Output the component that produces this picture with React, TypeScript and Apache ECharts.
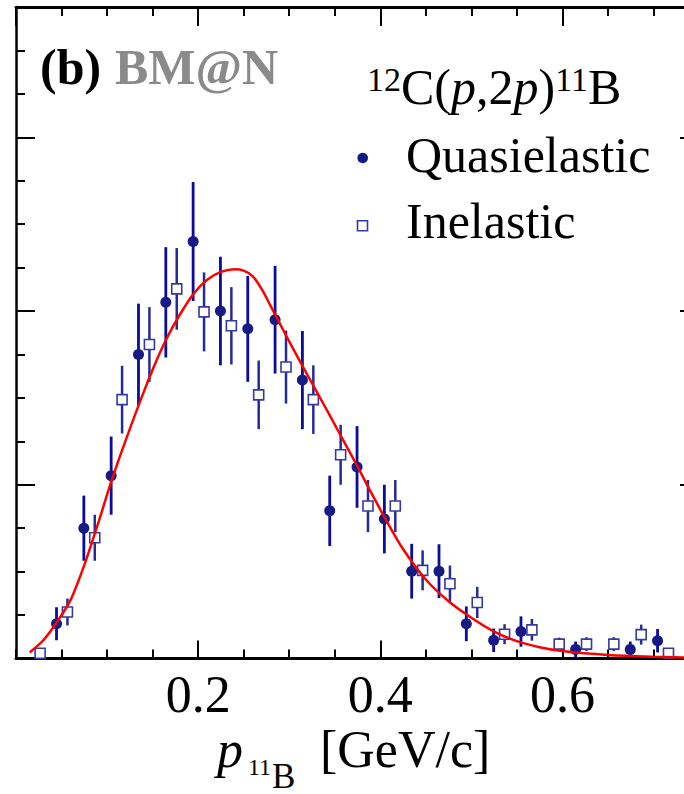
import React, { useEffect, useRef } from 'react';
import * as echarts from 'echarts';

// Quasielastic (filled circles)
const qeX = [0.0445, 0.0745, 0.1045, 0.1345, 0.1645, 0.1945, 0.2245, 0.2545, 0.2845, 0.3145, 0.3445, 0.3745, 0.4045, 0.4345, 0.4645, 0.4945, 0.5245, 0.5545, 0.6145, 0.6745, 0.7045];
const qeY = [0.80, 3.00, 4.21, 7.00, 8.20, 9.60, 8.00, 7.59, 7.80, 6.41, 3.40, 4.41, 3.21, 2.01, 2.01, 0.80, 0.42, 0.62, 0.21, 0.21, 0.41];
const qeErr = [0.38, 0.75, 0.90, 1.17, 1.27, 1.37, 1.25, 1.22, 1.24, 1.13, 0.81, 0.94, 0.79, 0.63, 0.62, 0.40, 0.27, 0.35, 0.18, 0.18, 0.27];

// Inelastic (open squares)
const ieX = [0.0265, 0.0565, 0.0865, 0.1165, 0.1465, 0.1765, 0.2065, 0.2365, 0.2665, 0.2965, 0.3265, 0.3565, 0.3865, 0.4165, 0.4465, 0.4765, 0.5065, 0.5365, 0.5665, 0.5965, 0.6265, 0.6565, 0.6865, 0.7165];
const ieY = [0.12, 1.07, 2.78, 5.96, 7.23, 8.51, 7.98, 7.66, 6.07, 6.71, 5.96, 4.69, 3.51, 3.51, 2.03, 1.72, 1.29, 0.56, 0.66, 0.33, 0.33, 0.33, 0.55, 0.12];
const ieErr = [0.10, 0.31, 0.53, 0.78, 0.86, 0.94, 0.91, 0.89, 0.79, 0.84, 0.79, 0.69, 0.60, 0.60, 0.46, 0.42, 0.36, 0.23, 0.25, 0.15, 0.16, 0.16, 0.23, 0.08];

// Model curve (red)
const curveX = [0.015, 0.03, 0.045, 0.06, 0.075, 0.09, 0.105, 0.12, 0.135, 0.15, 0.165, 0.18, 0.195, 0.21, 0.225, 0.24, 0.25, 0.26, 0.27, 0.28, 0.29, 0.30, 0.315, 0.33, 0.345, 0.36, 0.375, 0.39, 0.405, 0.425, 0.45, 0.475, 0.50, 0.525, 0.55, 0.575, 0.60, 0.65, 0.70, 0.75];
const curveY = [0.14, 0.42, 0.84, 1.35, 2.15, 3.10, 4.10, 5.00, 5.85, 6.65, 7.35, 7.92, 8.40, 8.72, 8.90, 8.96, 8.93, 8.80, 8.50, 8.10, 7.70, 7.30, 6.72, 6.15, 5.58, 5.00, 4.42, 3.82, 3.24, 2.52, 1.82, 1.32, 0.94, 0.62, 0.40, 0.26, 0.17, 0.08, 0.04, 0.02];

// Axis tick labels
const xTickValues = [0.2, 0.4, 0.6];
const xTickLabels = ['0.2', '0.4', '0.6'];

const SERIF = "'Liberation Serif', 'Times New Roman', serif";

export default function App() {
  const ref = useRef<HTMLDivElement>(null);

  useEffect(() => {
    const chart = echarts.init(ref.current!, undefined, { renderer: 'svg' });

    const errBar = (color: string, width: number) => (params: any, api: any) => {
      const x = api.value(0);
      const p1 = api.coord([x, api.value(2)]);
      const p2 = api.coord([x, api.value(3)]);
      return {
        type: 'line',
        shape: { x1: p1[0], y1: p1[1], x2: p2[0], y2: p2[1] },
        style: { stroke: color, lineWidth: width },
      };
    };

    const tickStyle = { color: '#000', width: 2 };
    const baseX: any = {
      type: 'value', min: 0, max: 0.75,
      splitLine: { show: false },
      axisLabel: { show: false },
      axisLine: { show: false, onZero: false },
    };
    const baseY: any = {
      type: 'value', min: 0, max: 15,
      splitLine: { show: false },
      axisLabel: { show: false },
      axisLine: { show: false, onZero: false },
    };

    const option: any = {
      animation: false,
      backgroundColor: '#fff',
      grid: { left: 16, top: 7, right: 21, bottom: 135.5, containLabel: false, outerBoundsMode: 'none' },
      xAxis: [
        { ...baseX, position: 'bottom', interval: 0.05,
          axisLine: { show: true, onZero: false, lineStyle: { color: '#000', width: 3 } },
          axisTick: { show: true, inside: true, length: 9, lineStyle: tickStyle } },
        { ...baseX, position: 'bottom', interval: 0.2,
          axisTick: { show: true, inside: true, length: 18, lineStyle: tickStyle },
          axisLabel: {
            show: true, margin: 10, fontSize: 52, fontFamily: SERIF, color: '#000',
            showMinLabel: false, showMaxLabel: false,
            formatter: (v: number) => {
              const i = xTickValues.findIndex((t) => Math.abs(t - v) < 1e-6);
              return i >= 0 ? xTickLabels[i] : '';
            },
          } },
        { ...baseX, position: 'top', interval: 0.05,
          axisLine: { show: true, onZero: false, lineStyle: { color: '#000', width: 3 } },
          axisTick: { show: true, inside: true, length: 9, lineStyle: tickStyle } },
        { ...baseX, position: 'top', interval: 0.2,
          axisTick: { show: true, inside: true, length: 19, lineStyle: tickStyle } },
      ],
      yAxis: [
        { ...baseY, position: 'left', interval: 1,
          axisLine: { show: true, onZero: false, lineStyle: { color: '#000', width: 2.5 } },
          axisTick: { show: true, inside: true, length: 9, lineStyle: tickStyle } },
        { ...baseY, position: 'left', interval: 4,
          axisTick: { show: true, inside: true, length: 19, lineStyle: tickStyle } },
        { ...baseY, position: 'right', interval: 1,
          axisLine: { show: true, onZero: false, lineStyle: { color: '#000', width: 2.5 } },
          axisTick: { show: true, inside: true, length: 9, lineStyle: tickStyle } },
        { ...baseY, position: 'right', interval: 4,
          axisTick: { show: true, inside: true, length: 19, lineStyle: tickStyle } },
      ],
      series: [
        {
          type: 'custom', name: 'qeErr', xAxisIndex: 0, yAxisIndex: 0, z: 2,
          renderItem: errBar('#0b0b9c', 2.8),
          encode: { x: 0, y: [2, 3] },
          data: qeX.map((x, i) => [x, qeY[i], qeY[i] - qeErr[i], qeY[i] + qeErr[i]]),
        },
        {
          type: 'scatter', name: 'Quasielastic', xAxisIndex: 0, yAxisIndex: 0, z: 3,
          symbol: 'circle', symbolSize: 11,
          itemStyle: { color: '#151a85', opacity: 1 },
          data: qeX.map((x, i) => [x, qeY[i]]),
        },
        {
          type: 'custom', name: 'ieErr', xAxisIndex: 0, yAxisIndex: 0, z: 4,
          renderItem: errBar('#262a96', 2.5),
          encode: { x: 0, y: [2, 3] },
          data: ieX.map((x, i) => [x, ieY[i], ieY[i] - ieErr[i], ieY[i] + ieErr[i]]),
        },
        {
          type: 'scatter', name: 'Inelastic', xAxisIndex: 0, yAxisIndex: 0, z: 5,
          symbol: 'rect', symbolSize: 10,
          itemStyle: { color: '#fff', borderColor: '#363a9e', borderWidth: 1.6, opacity: 1 },
          data: ieX.map((x, i) => [x, ieY[i]]),
        },
        {
          type: 'line', name: 'fit', xAxisIndex: 0, yAxisIndex: 0, z: 6,
          smooth: 0.3, showSymbol: false, symbol: 'none',
          lineStyle: { color: '#ff0000', width: 2.5 },
          data: curveX.map((x, i) => [x, curveY[i]]),
        },
      ],
      graphic: [
        { type: 'text', x: 40, y: 67, z: 10,
          style: { text: '(b)', fontSize: 50, fontWeight: 'bold', fontFamily: SERIF, fill: '#000', align: 'left', verticalAlign: 'middle' } },
        { type: 'text', x: 115, y: 67, z: 10,
          style: { text: 'BM@N', fontSize: 50, fontWeight: 'bold', fontFamily: SERIF, fill: '#8a8a8a', align: 'left', verticalAlign: 'middle' } },
        { type: 'text', x: 367, y: 87, z: 10,
          style: {
            text: '{s|12}C({i|p},2{i|p}){s|11}B', fontSize: 50, fontFamily: SERIF, fill: '#000',
            align: 'left', verticalAlign: 'middle',
            rich: {
              s: { fontSize: 34, fontFamily: SERIF, verticalAlign: 'top', fill: '#000' },
              i: { fontSize: 50, fontFamily: SERIF, fontStyle: 'italic', fill: '#000' },
            },
          } },
        { type: 'circle', z: 10, shape: { cx: 362.7, cy: 158, r: 5.3 }, style: { fill: '#151a85' } },
        { type: 'text', x: 406, y: 155, z: 10,
          style: { text: 'Quasielastic', fontSize: 50, fontFamily: SERIF, fill: '#000', align: 'left', verticalAlign: 'middle' } },
        { type: 'rect', z: 10, shape: { x: 357.5, y: 220.7, width: 10, height: 10 }, style: { fill: '#fff', stroke: '#363a9e', lineWidth: 1.6 } },
        { type: 'text', x: 406, y: 221, z: 10,
          style: { text: 'Inelastic', fontSize: 50, fontFamily: SERIF, fill: '#000', align: 'left', verticalAlign: 'middle' } },
        { type: 'text', x: 217, y: 749.5, z: 10,
          style: { text: 'p', fontSize: 52, fontStyle: 'italic', fontFamily: SERIF, fill: '#000', align: 'left', verticalAlign: 'middle' } },
        { type: 'text', x: 248, y: 767, z: 10,
          style: { text: '11', fontSize: 24, fontFamily: SERIF, fill: '#000', align: 'left', verticalAlign: 'middle' } },
        { type: 'text', x: 272, y: 776, z: 10,
          style: { text: 'B', fontSize: 35, fontFamily: SERIF, fill: '#000', align: 'left', verticalAlign: 'middle' } },
        { type: 'text', x: 320, y: 749.5, z: 10,
          style: { text: '[GeV/c]', fontSize: 52, fontFamily: SERIF, fill: '#000', align: 'left', verticalAlign: 'middle' } },
      ],
    };

    chart.setOption(option);
    return () => chart.dispose();
  }, []);

  return (
    <div style={{ position: 'fixed', left: 0, top: 0, width: 684, height: 794, overflow: 'hidden', background: '#fff' }}>
      <div ref={ref} style={{ width: 720, height: 794 }} />
    </div>
  );
}
